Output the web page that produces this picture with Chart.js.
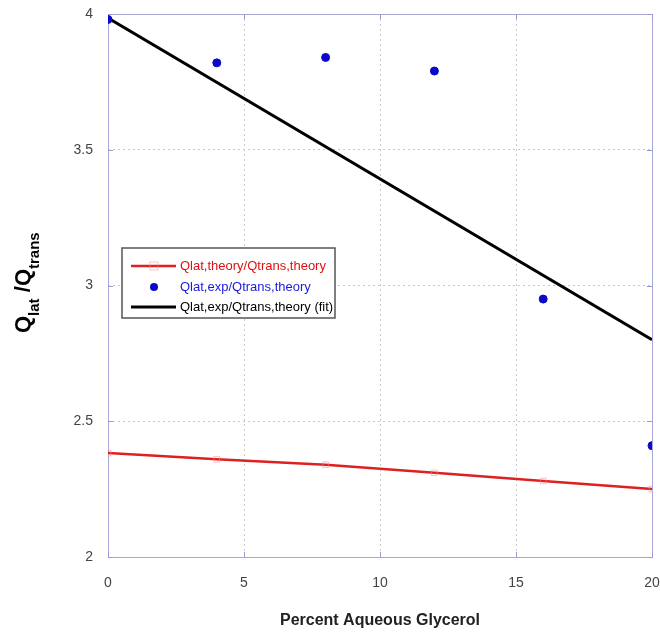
<!DOCTYPE html>
<html>
<head>
<meta charset="utf-8">
<script src="https://cdn.jsdelivr.net/npm/chart.js@4.4.1/dist/chart.umd.min.js"></script>
<style>
  html, body { margin: 0; padding: 0; background: #fff; }
  #wrap { width: 660px; height: 634px; }
</style>
</head>
<body>
<div id="wrap"><canvas id="c" width="660" height="634"></canvas></div>
<script>
// dados
const glycerolPct = [0, 4, 8, 12, 16, 20];
const ratioTheory = [2.383, 2.36, 2.34, 2.31, 2.28, 2.25];
const ratioExp = [3.98, 3.82, 3.84, 3.79, 2.95, 2.41];
const fitX = [0, 20];
const fitY = [3.985, 2.80];
const seriesLabels = ['Qlat,theory/Qtrans,theory', 'Qlat,exp/Qtrans,theory', 'Qlat,exp/Qtrans,theory (fit)'];

const toXY = (xs, ys) => xs.map((x, i) => ({ x: x, y: ys[i] }));

// moldura, legenda e título do eixo Y com subscritos
const extrasPlugin = {
  id: 'extras',
  beforeDatasetsDraw(chart) {
    const ctx = chart.ctx;
    const area = chart.chartArea;
    ctx.save();
    ctx.strokeStyle = '#a8a8d8';
    ctx.lineWidth = 1;
    ctx.strokeRect(Math.round(area.left) + 0.5, Math.round(area.top) + 0.5,
      Math.round(area.right - area.left), Math.round(area.bottom - area.top));

    // ticks internos nas quatro bordas
    ctx.strokeStyle = '#9a9ad0';
    const xs = chart.scales.x, ys = chart.scales.y;
    xs.ticks.forEach(t => {
      const px = Math.round(xs.getPixelForValue(t.value)) + 0.5;
      ctx.beginPath(); ctx.moveTo(px, area.top); ctx.lineTo(px, area.top + 5); ctx.stroke();
      ctx.beginPath(); ctx.moveTo(px, area.bottom); ctx.lineTo(px, area.bottom - 5); ctx.stroke();
    });
    ys.ticks.forEach(t => {
      const py = Math.round(ys.getPixelForValue(t.value)) + 0.5;
      ctx.beginPath(); ctx.moveTo(area.right, py); ctx.lineTo(area.right - 5, py); ctx.stroke();
      ctx.beginPath(); ctx.moveTo(area.left, py); ctx.lineTo(area.left + 5, py); ctx.stroke();
    });
    ctx.restore();
  },
  afterDraw(chart) {
    const ctx = chart.ctx;
    ctx.save();

    // título do eixo Y
    ctx.translate(30, 276);
    ctx.rotate(-Math.PI / 2);
    ctx.fillStyle = '#000';
    ctx.textBaseline = 'alphabetic';
    ctx.textAlign = 'left';
    let x = -57;
    ctx.font = 'bold 22px "Liberation Sans", Arial, sans-serif';
    ctx.fillText('Q', x, 0); x += ctx.measureText('Q').width;
    ctx.font = 'bold 15px "Liberation Sans", Arial, sans-serif';
    ctx.fillText('lat', x, 9); x += ctx.measureText('lat ').width + 2;
    ctx.font = 'bold 22px "Liberation Sans", Arial, sans-serif';
    ctx.fillText('/Q', x, 0); x += ctx.measureText('/Q').width;
    ctx.font = 'bold 15px "Liberation Sans", Arial, sans-serif';
    ctx.fillText('trans', x, 9);
    ctx.restore();

    // legenda
    ctx.save();
    const bx = 122, by = 248, bw = 213, bh = 70;
    ctx.fillStyle = '#fff';
    ctx.fillRect(bx, by, bw, bh);
    ctx.strokeStyle = '#555';
    ctx.lineWidth = 1.5;
    ctx.strokeRect(bx, by, bw, bh);
    ctx.font = '13px "Liberation Sans", Arial, sans-serif';
    ctx.textBaseline = 'middle';
    const rows = [266, 287, 307];
    chart.data.datasets.forEach((ds, i) => {
      const y = rows[i];
      if (ds.showLine !== false) {
        ctx.strokeStyle = ds.borderColor;
        ctx.lineWidth = ds.borderWidth;
        ctx.beginPath(); ctx.moveTo(131, y); ctx.lineTo(176, y); ctx.stroke();
      }
      if (ds.pointRadius > 0) {
        if (ds.pointStyle === 'rect') {
          ctx.strokeStyle = ds.pointBorderColor;
          ctx.lineWidth = 1;
          ctx.strokeRect(150, y - 4, 8, 8);
        } else {
          ctx.fillStyle = ds.pointBackgroundColor;
          ctx.beginPath(); ctx.arc(154, y, 4, 0, Math.PI * 2); ctx.fill();
        }
      }
      ctx.fillStyle = ds.textColor;
      ctx.fillText(ds.label, 180, y);
    });
    ctx.restore();
  }
};

const tickFont = { family: '"Liberation Sans", Arial', size: 14 };

new Chart(document.getElementById('c'), {
  type: 'line',
  data: {
    datasets: [
      {
        label: seriesLabels[0],
        data: toXY(glycerolPct, ratioTheory),
        borderColor: '#dd2020',
        borderWidth: 2.5,
        pointStyle: 'rect',
        pointRadius: 4,
        pointBorderColor: 'rgba(255,140,140,0.55)',
        pointBackgroundColor: 'rgba(0,0,0,0)',
        pointBorderWidth: 1,
        textColor: '#e01010',
        order: 3
      },
      {
        label: seriesLabels[1],
        data: toXY(glycerolPct, ratioExp),
        showLine: false,
        borderColor: '#0a0ac8',
        pointRadius: 4,
        pointBackgroundColor: '#0a0ac8',
        pointBorderColor: '#0a0ac8',
        textColor: '#1a1ae0',
        order: 1
      },
      {
        label: seriesLabels[2],
        data: toXY(fitX, fitY),
        borderColor: '#000',
        borderWidth: 3,
        pointRadius: 0,
        textColor: '#000',
        order: 2
      }
    ]
  },
  options: {
    responsive: false,
    animation: false,
    layout: { padding: { top: 14, right: 8, left: 0, bottom: 0 } },
    plugins: { legend: { display: false }, tooltip: { enabled: false } },
    scales: {
      x: {
        type: 'linear',
        min: 0, max: 20,
        ticks: { stepSize: 5, color: '#444', padding: 18, maxRotation: 0, font: tickFont },
        grid: { color: '#c8c8c8', drawTicks: false },
        border: { display: false, dash: [2, 3] },
        title: { display: true, text: 'Percent Aqueous Glycerol', color: '#222', font: { family: '"Liberation Sans", Arial', size: 16, weight: 'bold' }, padding: { top: 12 } },
        afterFit(scale) { scale.height = 77; scale.paddingLeft = 0; scale.paddingRight = 0; }
      },
      y: {
        min: 2, max: 4,
        ticks: { stepSize: 0.5, color: '#444', padding: 15, font: tickFont, callback: v => String(v) },
        grid: { color: '#c8c8c8', drawTicks: false },
        border: { display: false, dash: [2, 3] },
        afterFit(scale) { scale.width = 108; scale.paddingTop = 0; scale.paddingBottom = 0; }
      }
    }
  },
  plugins: [extrasPlugin]
});
</script>
</body>
</html>
